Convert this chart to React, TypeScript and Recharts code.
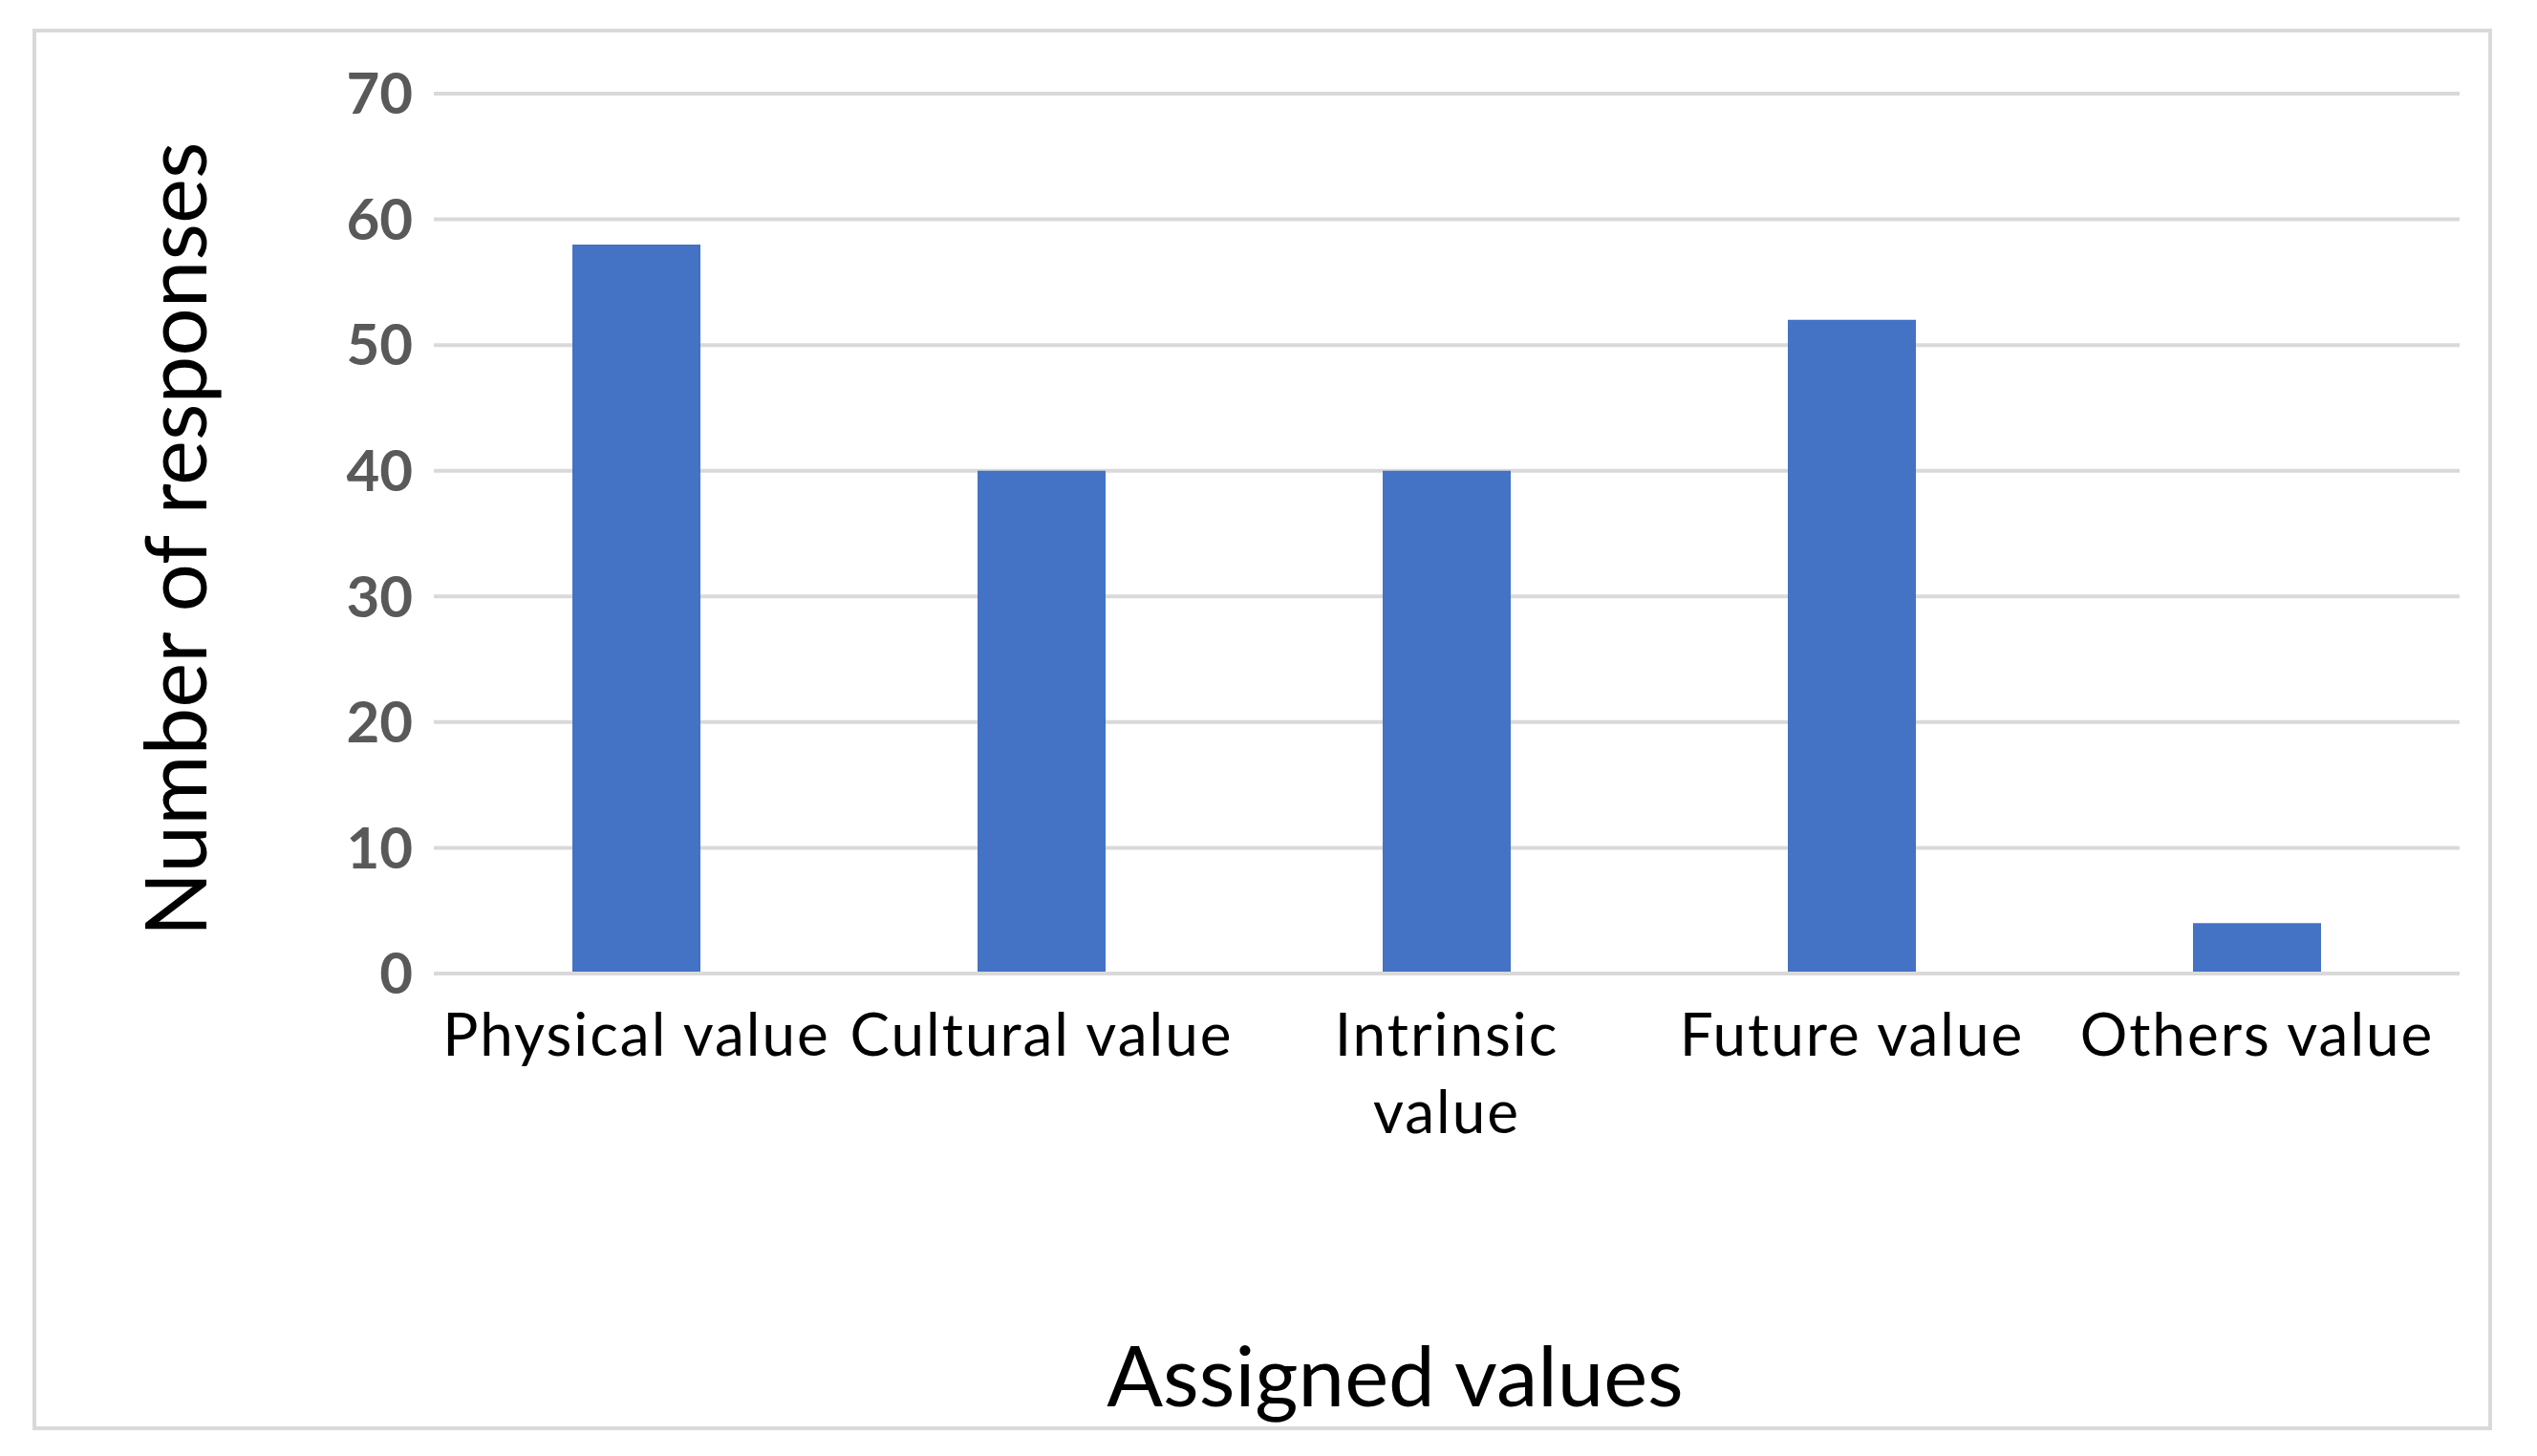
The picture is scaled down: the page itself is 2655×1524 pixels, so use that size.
import { BarChart, Bar, XAxis, YAxis, CartesianGrid } from 'recharts';

const categories = ['Physical value', 'Cultural value', 'Intrinsic value', 'Future value', 'Others value'];
const responses = [58, 40, 40, 52, 4];
const yTicks = [0, 10, 20, 30, 40, 50, 60, 70];
// Excel wrapped this one label onto two lines
const tickLines: Record<string, string[]> = {
    'Intrinsic value': ['Intrinsic', 'value'],
};

const data = categories.map((name, i) => ({ name, responses: responses[i] }));

const FONT = 'Lato, "Open Sans", sans-serif';

function CategoryTick({ x, y, payload }: any) {
    const lines = tickLines[payload.value] ?? [payload.value];
    return (
        <text x={x} y={y} textAnchor="middle" fontFamily={FONT} fontSize={62} letterSpacing={2} fill="#000">
            {lines.map((line, i) => (
                <tspan key={line} x={x} dy={i === 0 ? 0 : 81}>{line}</tspan>
            ))}
        </text>
    );
}

export default function App() {
    return (
        <div style={{ position: 'absolute', left: 0, top: 0, width: 2655, height: 1524, background: '#fff' }}>
            <div
                style={{
                    position: 'absolute',
                    left: 34,
                    top: 30,
                    width: 2566,
                    height: 1459,
                    border: '4px solid #d9d9d9',
                }}
            />
            <BarChart
                width={2655}
                height={1524}
                data={data}
                margin={{ top: 98, right: 81, bottom: 105, left: 0 }}
                style={{ position: 'absolute', left: 0, top: 0 }}
            >
                <CartesianGrid vertical={false} stroke="#d9d9d9" strokeWidth={4} />
                <XAxis
                    dataKey="name"
                    height={400}
                    axisLine={{ stroke: '#d9d9d9', strokeWidth: 4 }}
                    tickLine={false}
                    interval={0}
                    tick={(props: any) => <CategoryTick {...props} y={1105} />}
                    label={{
                        content: ({ viewBox }: any) => (
                            <text
                                x={viewBox.x + viewBox.width / 2 - 54}
                                y={1438}
                                textAnchor="middle"
                                dominantBaseline="central"
                                fontFamily={FONT}
                                fontSize={87}
                                fill="#000"
                            >
                                Assigned values
                            </text>
                        ),
                    }}
                />
                <YAxis
                    width={454}
                    domain={[0, 70]}
                    ticks={yTicks}
                    axisLine={false}
                    tickLine={false}
                    tickSize={0}
                    tickMargin={22}
                    tick={{ fill: '#595959', fontSize: 60, fontWeight: 'bold', fontFamily: FONT }}
                    label={{
                        content: ({ viewBox }: any) => {
                            const cx = 181;
                            const cy = viewBox.y + viewBox.height / 2 + 6;
                            return (
                                <text
                                    x={cx}
                                    y={cy}
                                    transform={`rotate(-90, ${cx}, ${cy})`}
                                    textAnchor="middle"
                                    dominantBaseline="central"
                                    fontFamily={FONT}
                                    fontSize={89}
                                    fill="#000"
                                >
                                    Number of responses
                                </text>
                            );
                        },
                    }}
                />
                <Bar dataKey="responses" fill="#4472C4" barSize={134} isAnimationActive={false} />
            </BarChart>
        </div>
    );
}
